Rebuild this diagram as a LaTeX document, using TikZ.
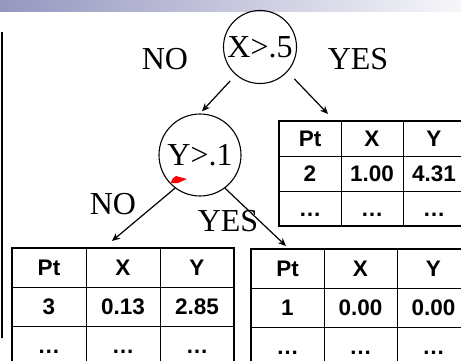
\documentclass[tikz,border=0pt]{standalone}
\usepackage{fontspec}
\newfontfamily\tnrfont{Liberation Serif}
\newfontfamily\arialfont{Liberation Sans}
\usetikzlibrary{arrows.meta}

\definecolor{barleft}{RGB}{150,150,192}

\tikzset{
	test/.style={shape=circle, draw, line width=1.1pt, inner sep=0pt, font=\tnrfont\fontsize{32}{38}\selectfont},
	answer/.style={inner sep=0pt, font=\tnrfont\fontsize{32}{38}\selectfont},
	branch/.style={-{Stealth[length=8pt, width=7pt]}, line width=1.2pt},
	cell/.style={anchor=base, inner sep=0pt, font=\arialfont\bfseries\fontsize{22.5}{27}\selectfont},
	outerline/.style={line width=2.6pt},
	innerline/.style={line width=1pt}
}

\begin{document}
\begin{tikzpicture}[x=1pt, y=-1pt]
		\useasboundingbox (0, 0) rectangle (461, 361);
		\clip (0, 0) rectangle (461, 361);

		\shade[left color=barleft, right color=white!92!barleft] (0, 0) rectangle (461, 12);
		\draw[line width=2pt] (2, 32) -- (2, 338);

		\node[test, minimum size=73pt] (root) at (260, 47) {X>.5};
		\node[test, minimum size=82pt] (ytest) at (200, 155) {Y>.1};

		\node[answer] (no1) at (165, 59) {NO};
		\node[answer] (yes1) at (358, 59) {YES};
		\node[answer] (no2) at (113, 204) {NO};
		\node[answer] (yes2) at (228, 221) {YES};

		% leaf tables: name / left / top / column width / row height / Pt / X / Y
		\foreach \tab/\x/\y/\w/\h/\p/\a/\b in {lb/12/248/74/39/3/0.13/2.85, rb/251/249/73/39/1/0.00/0.00, tr/279/121/62/35/2/1.00/4.31} {
			\draw[innerline] (\x, \y+\h) -- ++(3*\w, 0) (\x, \y+2*\h) -- ++(3*\w, 0)
				(\x+\w, \y) -- ++(0, 3*\h) (\x+2*\w, \y) -- ++(0, 3*\h);
			\draw[outerline] (\x, \y) rectangle ++(3*\w, 3*\h);
			\foreach \txt [count=\i from 0] in {Pt, X, Y}
				\node[cell] (\tab-h\i) at (\x+\i*\w+\w/2, \y+\h/2+8) {\txt};
			\foreach \txt [count=\i from 0] in {\p, \a, \b}
				\node[cell] (\tab-d\i) at (\x+\i*\w+\w/2, \y+\h+\h/2+8) {\txt};
			\foreach \i in {0, 1, 2}
				\node[cell] (\tab-e\i) at (\x+\i*\w+\w/2, \y+2*\h+\h/2+8) {\ldots};
		}

		\coordinate (tr-in) at (328, 114);
		\coordinate (lb-in) at (112, 241);
		\coordinate (rb-in) at (286, 246);

		\draw[branch, shorten <=8pt, shorten >=3pt] (root.229) -- (ytest.north);
		\draw[branch, shorten <=10pt] (root.318) -- (tr-in);
		\draw[branch] (ytest.233) -- (lb-in);
		\draw[branch] (ytest.307) -- (rb-in);

		% red mark on the circle
		\fill[red] (171, 183) .. controls (172, 179) .. (176, 176) -- (187, 179) -- (178, 183) -- cycle;
	\end{tikzpicture}
\end{document}
